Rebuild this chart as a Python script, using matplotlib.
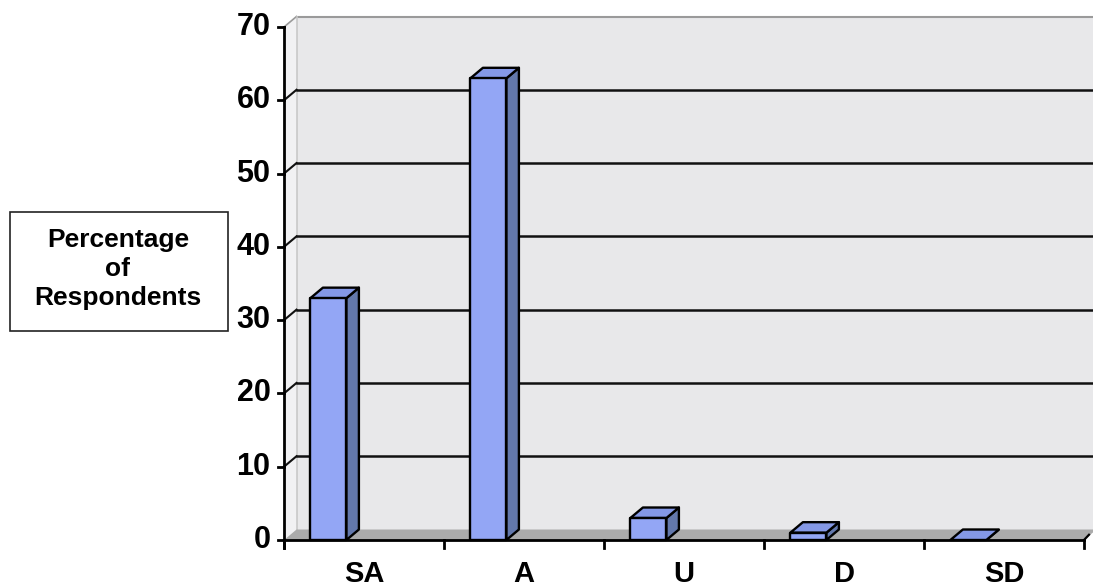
import matplotlib
matplotlib.use("Agg")
import matplotlib.pyplot as plt
from matplotlib.patches import Polygon, Rectangle

categories = ["SA", "A", "U", "D", "SD"]
percentages = [33, 63, 3, 1, 0]
y_ticks = [0, 10, 20, 30, 40, 50, 60, 70]
y_label = "Percentage\nof\nRespondents"

plt.rcParams["font.family"] = ["Liberation Sans", "DejaVu Sans"]

W, H = 1093, 587
fig = plt.figure(figsize=(W / 100, H / 100), dpi=100)
fig.patch.set_facecolor("white")

# front plane: category slots 0..5 along x, percent 0..70 along y
x0_px, x1_px = 284, 1084
y0_px, y1_px = 540, 27
ax = fig.add_axes([x0_px / W, (H - y0_px) / H, (x1_px - x0_px) / W, (y0_px - y1_px) / H])
ax.set_xlim(0, len(categories))
ax.set_ylim(0, 70)
ax.axis("off")

# oblique depth offset of the 3-D box (in data units)
dx = 12.5 / 160.0
dy = 10.5 / ((y0_px - y1_px) / 70.0)
ymax = y_ticks[-1]
xr = len(categories) + 0.2

wall_col = "#e8e8ea"
side_col = "#f1f1f3"
floor_col = "#ababab"

# side wall, back wall, floor
ax.add_patch(Polygon([(0, 0), (dx, dy), (dx, ymax + dy), (0, ymax)],
                     closed=True, facecolor=side_col, edgecolor="none", clip_on=False, zorder=1))
ax.add_patch(Polygon([(dx, dy), (xr, dy), (xr, ymax + dy), (dx, ymax + dy)],
                     closed=True, facecolor=wall_col, edgecolor="none", clip_on=False, zorder=1))
ax.plot([dx, xr], [ymax + dy, ymax + dy], color="#9a9a9a", lw=1.5, clip_on=False, zorder=2)
ax.plot([0, dx], [ymax, ymax + dy], color="#9a9a9a", lw=1.2, clip_on=False, zorder=2)
ax.plot([dx, dx], [dy, ymax + dy], color="#c8c8c8", lw=1.2, clip_on=False, zorder=2)
ax.add_patch(Polygon([(0, 0), (len(categories), 0), (len(categories) + dx, dy), (dx, dy)],
                     closed=True, facecolor=floor_col, edgecolor="none", clip_on=False, zorder=2))

# gridlines on back wall and side wall
for v in y_ticks[1:-1]:
    ax.plot([dx, xr], [v + dy, v + dy], color="#111111", lw=1.8, clip_on=False, zorder=2)
    ax.plot([0, dx], [v, v + dy], color="#111111", lw=1.5, clip_on=False, zorder=2)

# axes lines and ticks
ax.plot([0, 0], [-1.1, ymax], color="black", lw=2.0, clip_on=False, zorder=6)
ax.plot([0, len(categories)], [0, 0], color="black", lw=2.0, clip_on=False, zorder=6)
ax.plot([len(categories), len(categories) + dx * 0.4], [0, dy * 0.5],
        color="black", lw=1.6, clip_on=False, zorder=6)
for v in y_ticks:
    ax.plot([-0.04, 0], [v, v], color="black", lw=2.0, clip_on=False, zorder=6)
    ax.text(-0.085, v, str(v), ha="right", va="center", fontsize=22,
            fontweight="bold", clip_on=False)
for i in range(len(categories) + 1):
    ax.plot([i, i], [0, -1.1], color="black", lw=2.0, clip_on=False, zorder=6)

# 3-D columns
front_col = "#93a6f5"
top_col = "#8498e6"
side_bar_col = "#6378ac"
bar_off, bar_w = 0.165, 0.225
for i, (cat, val) in enumerate(zip(categories, percentages)):
    xl = i + bar_off
    xrb = xl + bar_w
    kw = dict(closed=True, edgecolor="black", lw=1.7, joinstyle="round", clip_on=False, zorder=5)
    ax.add_patch(Polygon([(xrb, 0), (xrb + dx, dy), (xrb + dx, val + dy), (xrb, val)],
                         facecolor=side_bar_col, **kw))
    ax.add_patch(Polygon([(xl, val), (xrb, val), (xrb + dx, val + dy), (xl + dx, val + dy)],
                         facecolor=top_col, **kw))
    if val > 0:
        ax.add_patch(Polygon([(xl, 0), (xrb, 0), (xrb, val), (xl, val)],
                             facecolor=front_col, **kw))
    ax.text(i + 0.5, -5.72, cat, ha="center", va="baseline", fontsize=21,
            fontweight="bold", clip_on=False)

# boxed axis title
fig.patches.append(Rectangle((10 / W, (H - 331) / H), 218 / W, 119 / H,
                             transform=fig.transFigure, facecolor="white",
                             edgecolor="#222222", lw=1.2))
fig.text(118 / W, (H - 269) / H, y_label, ha="center", va="center",
         fontsize=19, fontweight="bold", linespacing=1.28)

fig.savefig("out.png", dpi=100, facecolor="white")
